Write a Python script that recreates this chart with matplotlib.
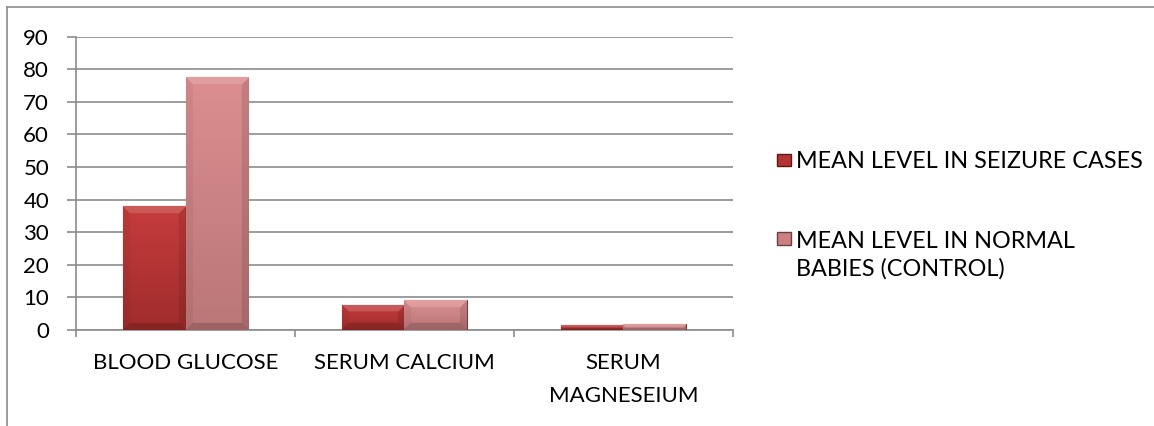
import numpy as np
import matplotlib.pyplot as plt
from matplotlib.colors import to_rgb
from matplotlib.lines import Line2D
from matplotlib.legend_handler import HandlerPatch
import matplotlib.patches as mpatches

plt.rcParams['font.family'] = ['Lato', 'DejaVu Sans']

# Data
categories = ["BLOOD GLUCOSE", "SERUM CALCIUM", "SERUM\nMAGNESEIUM"]
seizure_cases = [38, 7.8, 1.5]
normal_babies = [77.5, 9.2, 1.8]
series_names = ["MEAN LEVEL IN SEIZURE CASES", "MEAN LEVEL IN NORMAL\nBABIES (CONTROL)"]
yticks = [0, 10, 20, 30, 40, 50, 60, 70, 80, 90]

fs = 16
W, H = 1154, 426


def bevel_image(c_top, c_bot, pw, ph, b=7):
    # vertical gradient with a light top edge and darker sides/bottom
    pw, ph = max(int(pw), 2), max(int(ph), 2)
    t = np.linspace(1, 0, ph)[:, None, None]
    top, bot = np.array(to_rgb(c_top)), np.array(to_rgb(c_bot))
    img = np.repeat(bot + (top - bot) * t, pw, axis=1)
    yy, xx = np.mgrid[0:ph, 0:pw]
    d = np.stack([yy, ph - 1 - yy, xx, pw - 1 - xx])
    m = d.min(axis=0)
    near = d.argmin(axis=0)
    edge = m < b
    img[edge & (near == 0)] += (1 - img[edge & (near == 0)]) * 0.15
    img[edge & (near == 1)] *= 0.84
    img[edge & (near == 2)] *= 0.95
    img[edge & (near == 3)] *= 0.89
    return np.clip(img, 0, 1)


fig = plt.figure(figsize=(W / 100, H / 100), dpi=100)
ax = fig.add_axes([0.066, 0.2254, 0.569, 0.6885])

x = np.arange(len(categories))
w = 0.287
bars1 = ax.bar(x - w / 2, seizure_cases, w, color="#b43434", edgecolor="#5e1818", linewidth=0.8, zorder=3)
bars2 = ax.bar(x + w / 2, normal_babies, w, color="#cc8082", edgecolor="#6e3e40", linewidth=0.8, zorder=3)

ax.set_xlim(-0.5, 2.5)
ax.set_ylim(0, 90)

# pixel scale of the axes, for the bevel width
px_x = 0.569 * W / 3.0
px_y = 0.6885 * H / 90.0
for bars, ctop, cbot in ((bars1, "#c63c3c", "#a02c2c"), (bars2, "#dc8e90", "#ba7678")):
    for b in bars:
        x0, y0 = b.get_x(), b.get_y()
        bw, bh = b.get_width(), b.get_height()
        img = bevel_image(ctop, cbot, bw * px_x, bh * px_y)
        im = ax.imshow(img, extent=(x0, x0 + bw, y0, y0 + bh), origin="upper",
                       aspect="auto", zorder=3.5, interpolation="bilinear")
        im.set_clip_path(b)
ax.set_xlim(-0.5, 2.5)
ax.set_ylim(0, 90)

ax.set_yticks(yticks)
ax.grid(axis="y", color="#8c8c8c", linewidth=1.2, zorder=0)
ax.set_axisbelow(True)

ax.set_xticks([-0.5, 0.5, 1.5, 2.5])
ax.set_xticklabels([])
ax.set_xticks(x, minor=True)
ax.set_xticklabels(categories, minor=True, fontsize=fs, linespacing=1.85, va="top")
ax.tick_params(axis="x", which="minor", length=0, pad=16.5)
ax.tick_params(axis="x", which="major", length=5, color="#8c8c8c", width=1.2)
ax.tick_params(axis="y", length=6.5, color="#8c8c8c", width=1.2, labelsize=fs, pad=13)

for s in ("top", "right"):
    ax.spines[s].set_visible(False)
for s in ("left", "bottom"):
    ax.spines[s].set_color("#8c8c8c")
    ax.spines[s].set_linewidth(1.2)


def square_up(legend, orig_handle, xdescent, ydescent, width, height, fontsize):
    # put the marker next to the first line of a two-line label
    return mpatches.Rectangle((-xdescent, -ydescent + 12.5), width, height)


h1 = mpatches.Rectangle((0, 0), 1, 1, facecolor="#b43434", edgecolor="#5e1818")
h2 = mpatches.Rectangle((0, 0), 1, 1, facecolor="#cc8082", edgecolor="#6e3e40")
leg = fig.legend([h1, h2], series_names, loc="upper left", bbox_to_anchor=(0.673, 0.6444),
                 frameon=False, fontsize=16.8, handlelength=0.62, handleheight=0.45,
                 handletextpad=0.2, labelspacing=2.52, borderpad=0, borderaxespad=0,
                 handler_map={h2: HandlerPatch(patch_func=square_up)})
for t in leg.get_texts():
    t.set_linespacing(1.35)

# outer chart border (top and left visible)
fig.add_artist(Line2D([0.006, 1.0], [0.983, 0.983], color="#8c8c8c", linewidth=1.2))
fig.add_artist(Line2D([0.006, 0.006], [0.0, 0.983], color="#8c8c8c", linewidth=1.2))

fig.savefig("out.png", dpi=100)
